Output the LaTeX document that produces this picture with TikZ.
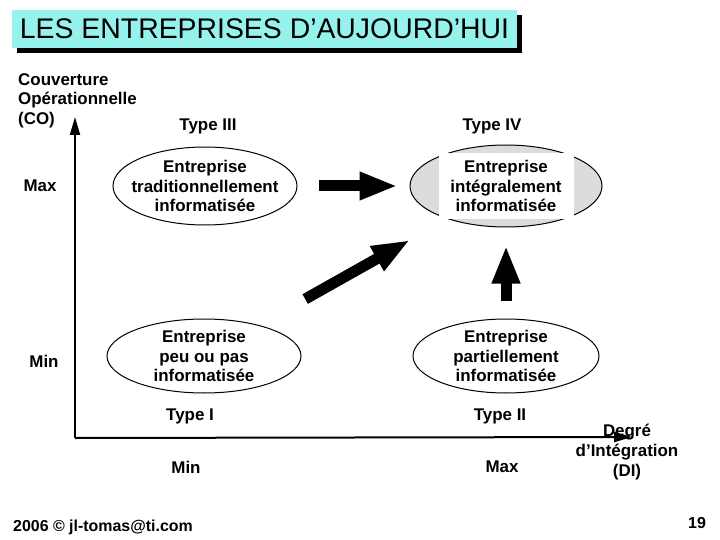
\documentclass[tikz,border=0pt]{standalone}
\usepackage{fontspec}
\setmainfont{Liberation Sans}
\usetikzlibrary{arrows.meta, positioning, shapes.geometric, shadows}
\definecolor{titlecyan}{RGB}{150,242,236}
\definecolor{ovalgrey}{RGB}{220,220,220}
\tikzstyle{titlebox} = [rectangle, fill=titlecyan, minimum width=505bp, minimum height=38bp,
drop shadow={shadow xshift=5bp, shadow yshift=-5bp, fill=black, opacity=1},
font=\fontsize{28.5}{31}\selectfont]
\tikzstyle{oval} = [ellipse, draw=black, line width=1bp, inner sep=0pt]
\tikzstyle{lbl} = [align=center, inner sep=0pt]
\tikzstyle{axis} = [line width=2bp, -{Triangle[width=10bp, length=18bp]}]
\tikzstyle{bigarrow} = [line width=11bp, -{Triangle[width=26bp, length=38bp]}]

\begin{document}
\begin{tikzpicture}[x=1bp, y=-1bp, every node/.style={font=\fontsize{17}{20}\selectfont\bfseries}]

		% Canvas
		\useasboundingbox (0,0) rectangle (720,540);

		% Title
		\node[titlebox] (title) at (264.5,29) {LES ENTREPRISES D’AUJOURD’HUI};

		% Axes
		\coordinate (origin) at (75,438);
		\coordinate (ytop) at (75,117);
		\coordinate (xend) at (632,437);
		\draw[axis] (origin) -- (ytop);
		\draw[axis] (origin) -- (xend);

		% Axis labels
		\node[lbl, align=left, anchor=north west] (colbl) at (18,73) {Couverture\\Opérationnelle\\(CO)};
		\node[lbl] (ymax) at (40,186) {Max};
		\node[lbl] (ymin) at (44,361) {Min};
		\node[lbl] (xmin) at (186,467) {Min};
		\node[lbl] (xmax) at (502,467) {Max};
		\node[lbl] (dilbl) at (627,452) {Degré\\d’Intégration\\(DI)};

		% The four types of firms
		\node[oval, minimum width=184bp, minimum height=78bp] (typeIII) at (205,186) {};
		\node[lbl] (typeIIItxt) at (typeIII) {Entreprise\\traditionnellement\\informatisée};
		\node[oval, fill=ovalgrey, minimum width=192bp, minimum height=82bp] (typeIV) at (506,186) {};
		\node[fill=white, align=center, minimum width=135bp, minimum height=66bp] (typeIVtxt) at (typeIV) {Entreprise\\intégralement\\informatisée};
		\node[oval, minimum width=194bp, minimum height=74bp] (typeI) at (204,356) {};
		\node[lbl] (typeItxt) at (typeI) {Entreprise\\peu ou pas\\informatisée};
		\node[oval, minimum width=186bp, minimum height=74bp] (typeII) at (506,356) {};
		\node[lbl] (typeIItxt) at (typeII) {Entreprise\\partiellement\\informatisée};

		\node[lbl] (typeIIIlbl) at (208,126) {Type III};
		\node[lbl] (typeIVlbl) at (492,126) {Type IV};
		\node[lbl] (typeIlbl) at (190,416) {Type I};
		\node[lbl] (typeIIlbl) at (500,416) {Type II};

		% Evolution arrows
		\draw[bigarrow, shorten <=21bp, shorten >=12bp] (typeIII.east) -- (typeIV.west);
		\draw[bigarrow, shorten <=53bp, shorten >=43bp] (typeI) -- (typeIV);
		\draw[bigarrow, shorten <=17bp, shorten >=18bp] (typeII.north) -- (typeIV.south);

		% Footer
		\node[lbl, anchor=west, font=\fontsize{16}{18}\selectfont\bfseries] (footer) at (13,527) {2006 © jl-tomas@ti.com};
		\node[lbl, font=\fontsize{16}{18}\selectfont\bfseries] (pagenum) at (697,523) {19};

	\end{tikzpicture}
\end{document}
